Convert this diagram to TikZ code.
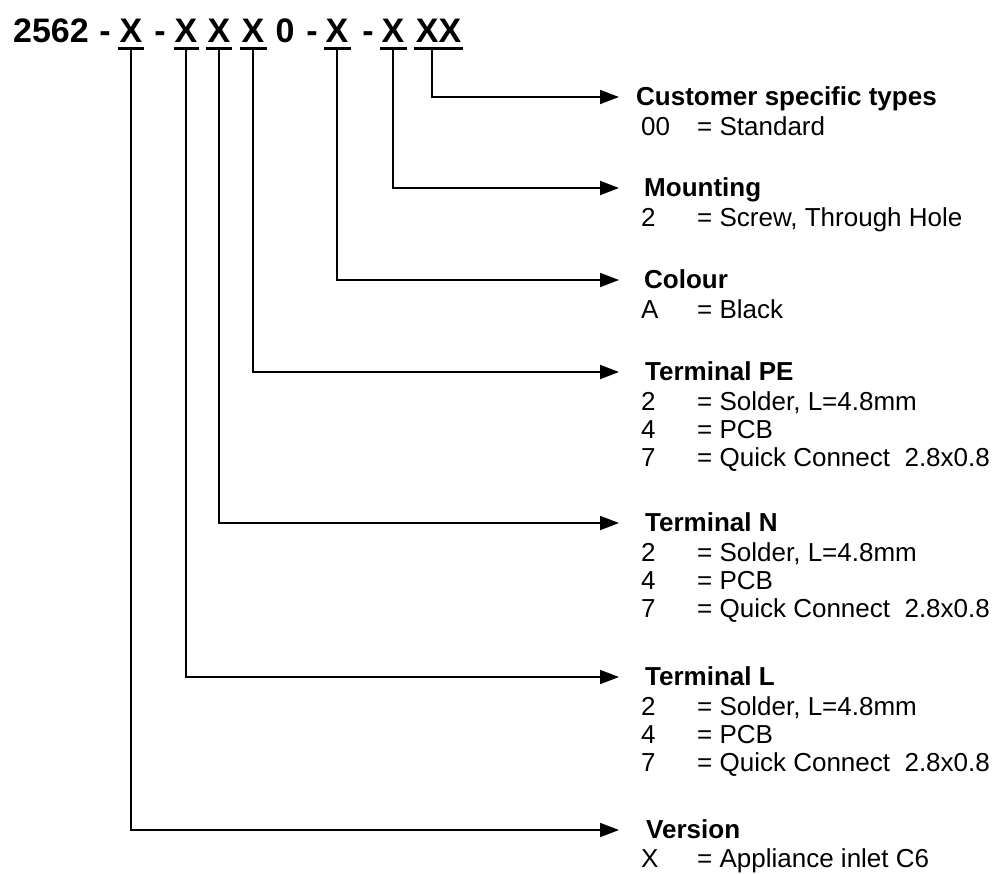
\documentclass[tikz,border=0pt]{standalone}
\usepackage{fontspec}
\setmainfont{Liberation Sans}
\usetikzlibrary{arrows.meta}
\begin{document}
\begin{tikzpicture}[x=1pt,y=-1pt,
  ttl/.style={font=\fontsize{34}{40}\selectfont\bfseries, inner sep=0pt, anchor=base},
  uline/.style={fill=black, inner sep=0pt, minimum height=3pt, anchor=north},
  head/.style={font=\fontsize{26}{28}\selectfont\bfseries, inner sep=0pt, anchor=base west},
  body/.style={font=\fontsize{26}{28}\selectfont, inner sep=0pt, anchor=base west},
  conn/.style={line width=1.8pt, -{Triangle[length=19pt,width=14pt]}}]
\useasboundingbox (0,0) rectangle (1000,873);
% title code
\node[ttl] (t0) at (51,42) {2562};
\node[ttl] (d1) at (105,42) {-};
\node[ttl] (x1) at (131,42) {X};
\node[ttl] (d2) at (160,42) {-};
\node[ttl] (x2) at (186,42) {X};
\node[ttl] (x3) at (219,42) {X};
\node[ttl] (x4) at (253,42) {X};
\node[ttl] (z0) at (285,42) {0};
\node[ttl] (d3) at (312,42) {-};
\node[ttl] (x5) at (337,42) {X};
\node[ttl] (d4) at (368,42) {-};
\node[ttl] (x6) at (393,42) {X};
\node[ttl] (x7) at (438.5,42) {XX};
% underlines
\node[uline, minimum width=26pt] (u1) at (131,47) {};
\node[uline, minimum width=25pt] (u2) at (186,47) {};
\node[uline, minimum width=26pt] (u3) at (219,47) {};
\node[uline, minimum width=27pt] (u4) at (253,47) {};
\node[uline, minimum width=27pt] (u5) at (337,47) {};
\node[uline, minimum width=27pt] (u6) at (393,47) {};
\node[uline, minimum width=49pt] (u7) at (438.5,47) {};
% arrow ends
\coordinate (e7) at (619,97);
\coordinate (e6) at (619,188);
\coordinate (e5) at (619,280);
\coordinate (e4) at (619,372);
\coordinate (e3) at (619,523);
\coordinate (e2) at (619,677);
\coordinate (e1) at (619,830);
% connectors
\draw[conn] (u7.south -| 432,0) |- (e7);
\draw[conn] (u6.south) |- (e6);
\draw[conn] (u5.south) |- (e5);
\draw[conn] (u4.south) |- (e4);
\draw[conn] (u3.south) |- (e3);
\draw[conn] (u2.south) |- (e2);
\draw[conn] (u1.south) |- (e1);
% Customer specific types
\node[head] (h7) at (636,105) {Customer specific types};
\node[body] (c7a) at (641,135) {00};
\node[body] (v7a) at (697,135) {= Standard};
% Mounting
\node[head] (h6) at (644,196) {Mounting};
\node[body] (c6a) at (641,226) {2};
\node[body] (v6a) at (697,226) {= Screw, Through Hole};
% Colour
\node[head] (h5) at (644,288) {Colour};
\node[body] (c5a) at (641,318) {A};
\node[body] (v5a) at (697,318) {= Black};
% Terminal PE
\node[head] (h4) at (645,380) {Terminal PE};
\node[body] (c4a) at (641,410) {2};
\node[body] (v4a) at (697,410) {= Solder, L=4.8mm};
\node[body] (c4b) at (641,438) {4};
\node[body] (v4b) at (697,438) {= PCB};
\node[body] (c4c) at (641,466) {7};
\node[body] (v4c) at (697,466) {= Quick Connect\ \ 2.8x0.8};
% Terminal N
\node[head] (h3) at (645,531) {Terminal N};
\node[body] (c3a) at (641,561) {2};
\node[body] (v3a) at (697,561) {= Solder, L=4.8mm};
\node[body] (c3b) at (641,589) {4};
\node[body] (v3b) at (697,589) {= PCB};
\node[body] (c3c) at (641,617) {7};
\node[body] (v3c) at (697,617) {= Quick Connect\ \ 2.8x0.8};
% Terminal L
\node[head] (h2) at (645,685) {Terminal L};
\node[body] (c2a) at (641,715) {2};
\node[body] (v2a) at (697,715) {= Solder, L=4.8mm};
\node[body] (c2b) at (641,743) {4};
\node[body] (v2b) at (697,743) {= PCB};
\node[body] (c2c) at (641,771) {7};
\node[body] (v2c) at (697,771) {= Quick Connect\ \ 2.8x0.8};
% Version
\node[head] (h1) at (646,838) {Version};
\node[body] (c1a) at (641,867) {X};
\node[body] (v1a) at (697,867) {= Appliance inlet C6};
\end{tikzpicture}
\end{document}
